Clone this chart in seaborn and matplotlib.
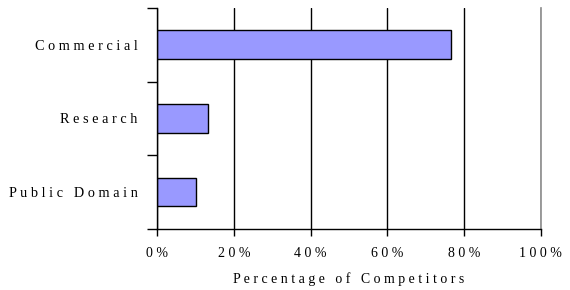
import matplotlib
matplotlib.use("Agg")
import matplotlib.pyplot as plt
import matplotlib.ticker as mticker
import seaborn as sns
import pandas as pd

# ===== Data =====
categories = ["Commercial", "Research", "Public Domain"]
percentages = [76.6, 13.2, 10.2]
xticks = [0, 20, 40, 60, 80, 100]

df = pd.DataFrame({"category": categories, "pct": percentages})


def spaced(text):
    # the original shows letter-spaced text
    return " ".join(text)


sns.set_theme(style="white")
plt.rcParams["font.family"] = ["Liberation Serif", "DejaVu Serif"]

fig = plt.figure(figsize=(5.7, 2.9), dpi=100)
ax = fig.add_axes([0.2754, 0.2114, 0.949 - 0.2754, 0.9724 - 0.2114])

sns.barplot(data=df, x="pct", y="category", orient="h", color="#9999FF",
            saturation=1, width=0.39, edgecolor="black", linewidth=1, ax=ax)

ax.set_xlim(0, 100)
ax.set_ylim(2.5, -0.5)
ax.set_xticks(xticks)
ax.set_xticklabels([spaced(f"{v}%") for v in xticks], fontsize=10)
ax.grid(axis="x", color="black", linewidth=1)
ax.set_axisbelow(True)

ax.set_yticks(range(len(categories)))
ax.set_yticklabels([spaced(c) for c in categories], fontsize=10.3)
ax.yaxis.set_minor_locator(mticker.FixedLocator([-0.5, 0.5, 1.5, 2.5]))
ax.tick_params(axis="y", which="major", length=0, pad=14, colors="black")
ax.tick_params(axis="y", which="minor", length=7, width=1, color="black", left=True)
ax.tick_params(axis="x", length=5, width=1, color="black", bottom=True, pad=8,
               labelcolor="black")

ax.set_ylabel("")
ax.set_xlabel(spaced("Percentage of Competitors"), fontsize=10, labelpad=9,
              color="black")

for side in ["left", "bottom"]:
    ax.spines[side].set_color("black")
    ax.spines[side].set_linewidth(1)
ax.spines["right"].set_color("#909090")
ax.spines["top"].set_visible(False)

fig.savefig("out.png", dpi=100)
